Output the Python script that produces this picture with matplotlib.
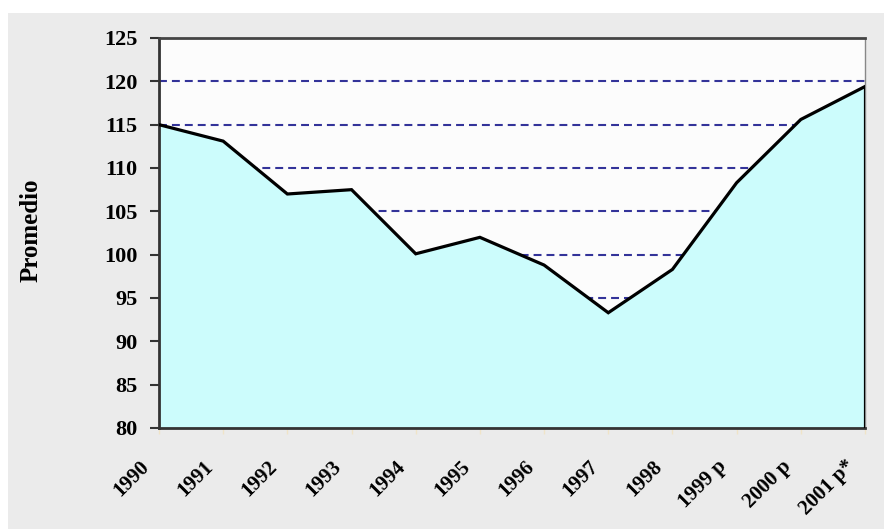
import matplotlib
matplotlib.use("Agg")
import matplotlib.pyplot as plt
from matplotlib.patches import Rectangle
from matplotlib.transforms import ScaledTranslation

years = ["1990", "1991", "1992", "1993", "1994", "1995", "1996", "1997",
         "1998", "1999 p", "2000 p", "2001 p*"]
values = [115.0, 113.1, 107.0, 107.5, 100.1, 102.0, 98.8, 93.3,
          98.3, 108.3, 115.6, 119.4]
yticks = [80, 85, 90, 95, 100, 105, 110, 115, 120, 125]

W, H = 884, 529
fig = plt.figure(figsize=(W / 100, H / 100), dpi=100, facecolor="white")
# grey panel background
fig.patches.append(Rectangle((8 / W, 0), 1 - 8 / W, (H - 13) / H,
                             transform=fig.transFigure, facecolor="#ebebeb",
                             edgecolor="none", zorder=-10))

ax = fig.add_axes([159 / W, (H - 428) / H, (865 - 159) / W, (428 - 38) / H])
ax.set_zorder(1)
ax.set_facecolor("#fcfcfc")

x = list(range(len(years)))
ax.fill_between(x, values, 80, color="#ccfcfc", zorder=2, linewidth=0)
ax.plot(x, values, color="black", linewidth=2.3, zorder=3,
        solid_joinstyle="miter")
ax.plot([x[-1], x[-1]], [80, values[-1]], color="black", linewidth=2.3, zorder=3)

for yv in yticks[1:-1]:
    ax.axhline(yv, color="#333399", linestyle=(0, (3.8, 2.4)), linewidth=1.5, zorder=1)

ax.set_xlim(0, len(years) - 1)
ax.set_ylim(80, 125)
ax.set_yticks(yticks)
ax.set_yticklabels([str(v) for v in yticks],
                   fontdict={"family": "Liberation Serif", "weight": "bold", "size": 16})
ax.set_xticks(x)
ax.set_xticklabels(years, rotation=45, ha="right", va="center", rotation_mode="anchor",
                   fontdict={"family": "Liberation Serif", "weight": "bold", "size": 15})
ax.tick_params(axis="y", direction="out", length=6.5, width=1.5, color="#333333", pad=9)
ax.tick_params(axis="x", direction="out", length=4, width=1, color="#f0e4c8", pad=0)
off = ScaledTranslation(-13 / 100, -30 / 100, fig.dpi_scale_trans)
for lab in ax.get_xticklabels():
    lab.set_transform(lab.get_transform() + off)

for s in ["left", "bottom"]:
    ax.spines[s].set_color("#333333")
    ax.spines[s].set_linewidth(2)
ax.spines["top"].set_color("#444444")
ax.spines["top"].set_linewidth(2)
ax.spines["right"].set_color("#888888")
ax.spines["right"].set_linewidth(1)

ax.set_ylabel("Promedio", fontdict={"family": "Liberation Serif", "weight": "bold", "size": 18})
ax.yaxis.set_label_coords((43 - 159) / 706, (428 - 230) / 390)

fig.savefig("out.png", dpi=100, facecolor=fig.get_facecolor())
